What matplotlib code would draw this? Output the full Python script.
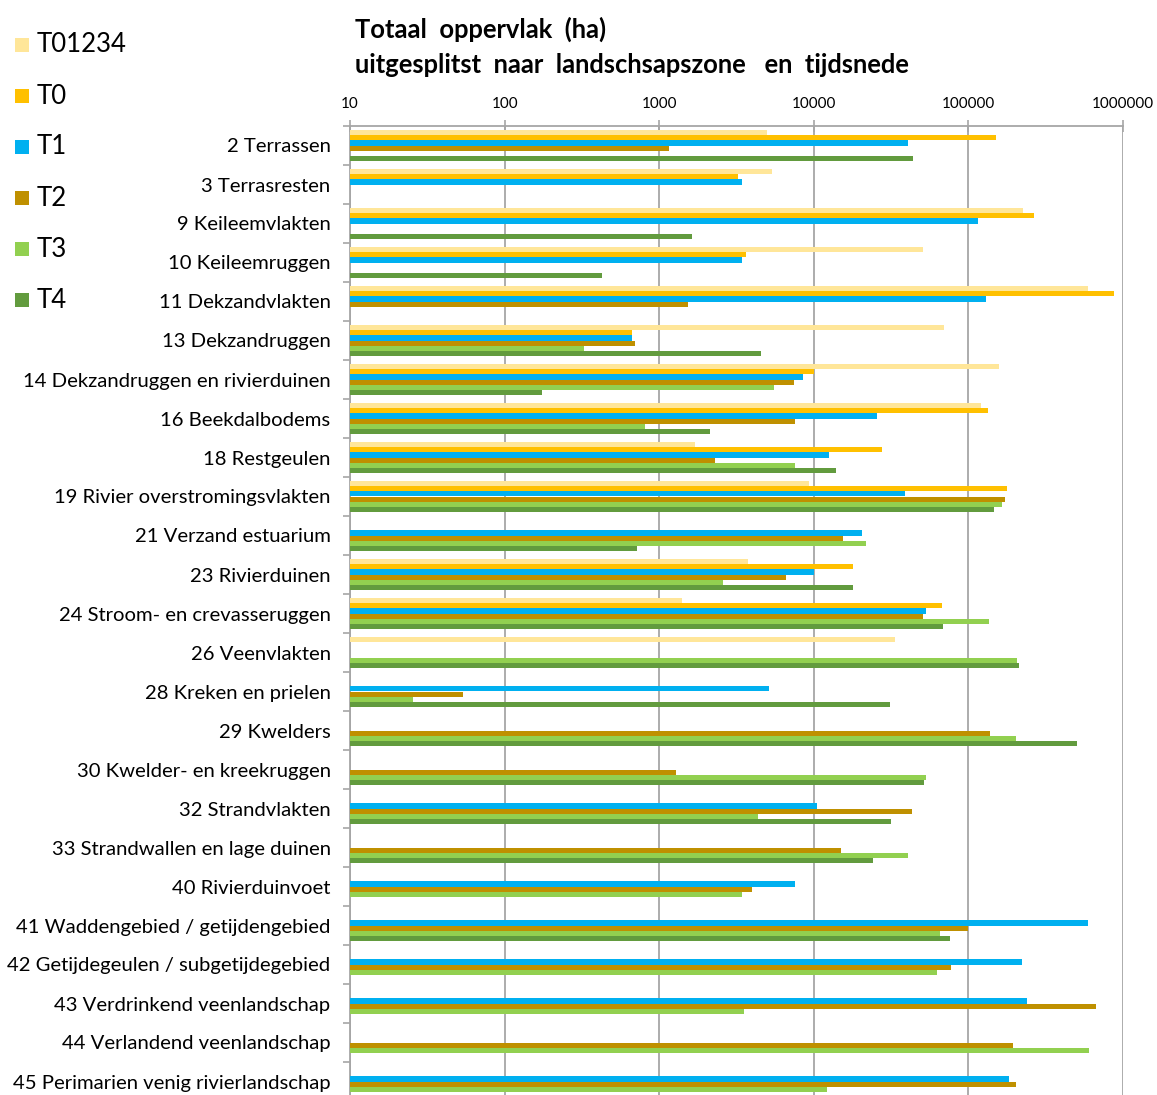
import numpy as np
import matplotlib
matplotlib.use("Agg")
import matplotlib.pyplot as plt
from matplotlib.patches import Rectangle
from matplotlib.ticker import FixedLocator, NullFormatter

plt.rcParams['font.family'] = ['Lato', 'DejaVu Sans']

categories = [
    "2 Terrassen", "3 Terrasresten", "9 Keileemvlakten", "10 Keileemruggen",
    "11 Dekzandvlakten", "13 Dekzandruggen", "14 Dekzandruggen en rivierduinen",
    "16 Beekdalbodems", "18 Restgeulen", "19 Rivier overstromingsvlakten",
    "21 Verzand estuarium", "23 Rivierduinen", "24 Stroom- en crevasseruggen",
    "26 Veenvlakten", "28 Kreken en prielen", "29 Kwelders",
    "30 Kwelder- en kreekruggen", "32 Strandvlakten",
    "33 Strandwallen en lage duinen", "40 Rivierduinvoet",
    "41 Waddengebied / getijdengebied", "42 Getijdegeulen / subgetijdegebied",
    "43 Verdrinkend veenlandschap", "44 Verlandend veenlandschap",
    "45 Perimarien venig rivierlandschap",
]

N = None
T01234 = [5000, 5400, 225000, 51000, 590000, 70000, 158000, 120000, 1700, 9300,
          N, 3750, 1400, 33700, N, N, N, N, N, N, N, N, N, N, N]
T0 = [150000, 3250, 264000, 3670, 870000, 670, 10000, 133000, 27500, 177000,
      N, 18000, 67000, N, N, N, N, N, N, N, N, N, N, N, N]
T1 = [40500, 3450, 115000, 3450, 130000, 670, 8500, 25500, 12600, 39000,
      20400, 10000, 52800, N, 5100, N, N, 10500, N, 7550,
      590000, 222000, 240000, N, 184000]
T2 = [1160, N, N, N, 1540, 700, 7400, 7600, 2300, 173000,
      15400, 6600, 50800, N, 54, 138600, 1285, 43000, 15000, 4000,
      100000, 77000, 668000, 195000, 204000]
T3 = [N, N, N, N, N, 325, 5500, 810, 7600, 165000,
      21700, 2600, 135500, 207000, 25.5, 204000, 52800, 4370, 40500, 3450,
      65800, 63000, 3530, 601000, 12100]
T4 = [44000, N, 1640, 424, N, 4570, 175, 2140, 14000, 147000,
      716, 18000, 68400, 212000, 31000, 505000, 51600, 31750, 24000, N,
      76000, N, N, N, N]

series_names = ["T01234", "T0", "T1", "T2", "T3", "T4"]
series_values = [T01234, T0, T1, T2, T3, T4]
colors = ["#FFE699", "#FFC000", "#00B0F0", "#BF9000", "#92D050", "#629B3E"]

x_ticks = [10, 100, 1000, 10000, 100000, 1000000]
XMIN, XMAX = 10, 1000000

fig = plt.figure(figsize=(11.57, 10.95), dpi=100)
ax = fig.add_axes([350 / 1157, -6 / 1095, 773 / 1157, 975 / 1095])

n_cat = len(categories)
n_ser = len(series_values)
group = 0.79
h = group / n_ser
ypos = np.arange(n_cat)

for k, (name, vals, col) in enumerate(zip(series_names, series_values, colors)):
    v = np.array([np.nan if x is None else x for x in vals], dtype=float)
    widths = v - XMIN
    offs = -group / 2 + h * (k + 0.5)
    ax.barh(ypos + offs, widths, height=h, left=XMIN, color=col,
            edgecolor='none', zorder=3, label=name)

ax.set_xscale('log')
ax.set_xlim(XMIN, XMAX)
ax.set_ylim(n_cat - 0.5, -0.5)

grid_col = "#A6A6A6"
ax.xaxis.set_major_locator(FixedLocator(x_ticks))
ax.xaxis.set_minor_locator(FixedLocator([]))
ax.set_xticklabels([str(t) for t in x_ticks])
ax.xaxis.set_ticks_position('top')
ax.xaxis.set_label_position('top')
ax.tick_params(axis='x', which='major', direction='inout', length=9,
               width=1.2, color=grid_col, labelsize=11, pad=6,
               labelcolor='black')
ax.grid(axis='x', which='major', color=grid_col, linewidth=1.3, zorder=0)

ax.set_yticks(ypos)
ax.set_yticklabels(categories)
ax.yaxis.set_minor_locator(FixedLocator(np.arange(-0.5, n_cat, 1.0)))
ax.yaxis.set_minor_formatter(NullFormatter())
ax.tick_params(axis='y', which='major', length=0, pad=14, labelsize=14.6)
ax.tick_params(axis='y', which='minor', direction='out', length=5,
               width=1.2, color=grid_col)

for side in ['right', 'bottom']:
    ax.spines[side].set_visible(False)
for side in ['top', 'left']:
    ax.spines[side].set_color(grid_col)
    ax.spines[side].set_linewidth(1.3)

# Title
fig.text(355 / 1157, 1 - 29 / 1095, "Totaal  oppervlak  (ha)", fontsize=18.4,
         fontweight='bold', ha='left', va='center')
fig.text(355 / 1157, 1 - 65 / 1095,
         "uitgesplitst  naar  landschsapszone   en  tijdsnede", fontsize=18.4,
         fontweight='bold', ha='left', va='center')

# Legend in the upper-left corner
leg_y = [45, 96, 147, 198, 249, 300]
for name, col, yy in zip(series_names, colors, leg_y):
    fig.patches.append(Rectangle((15 / 1157, 1 - (yy + 7) / 1095), 14 / 1157, 14 / 1095,
                                 transform=fig.transFigure, facecolor=col,
                                 edgecolor='none'))
    fig.text(37 / 1157, 1 - yy / 1095, name, fontsize=18.5, ha='left',
             va='center')

fig.savefig("out.png", dpi=100)
